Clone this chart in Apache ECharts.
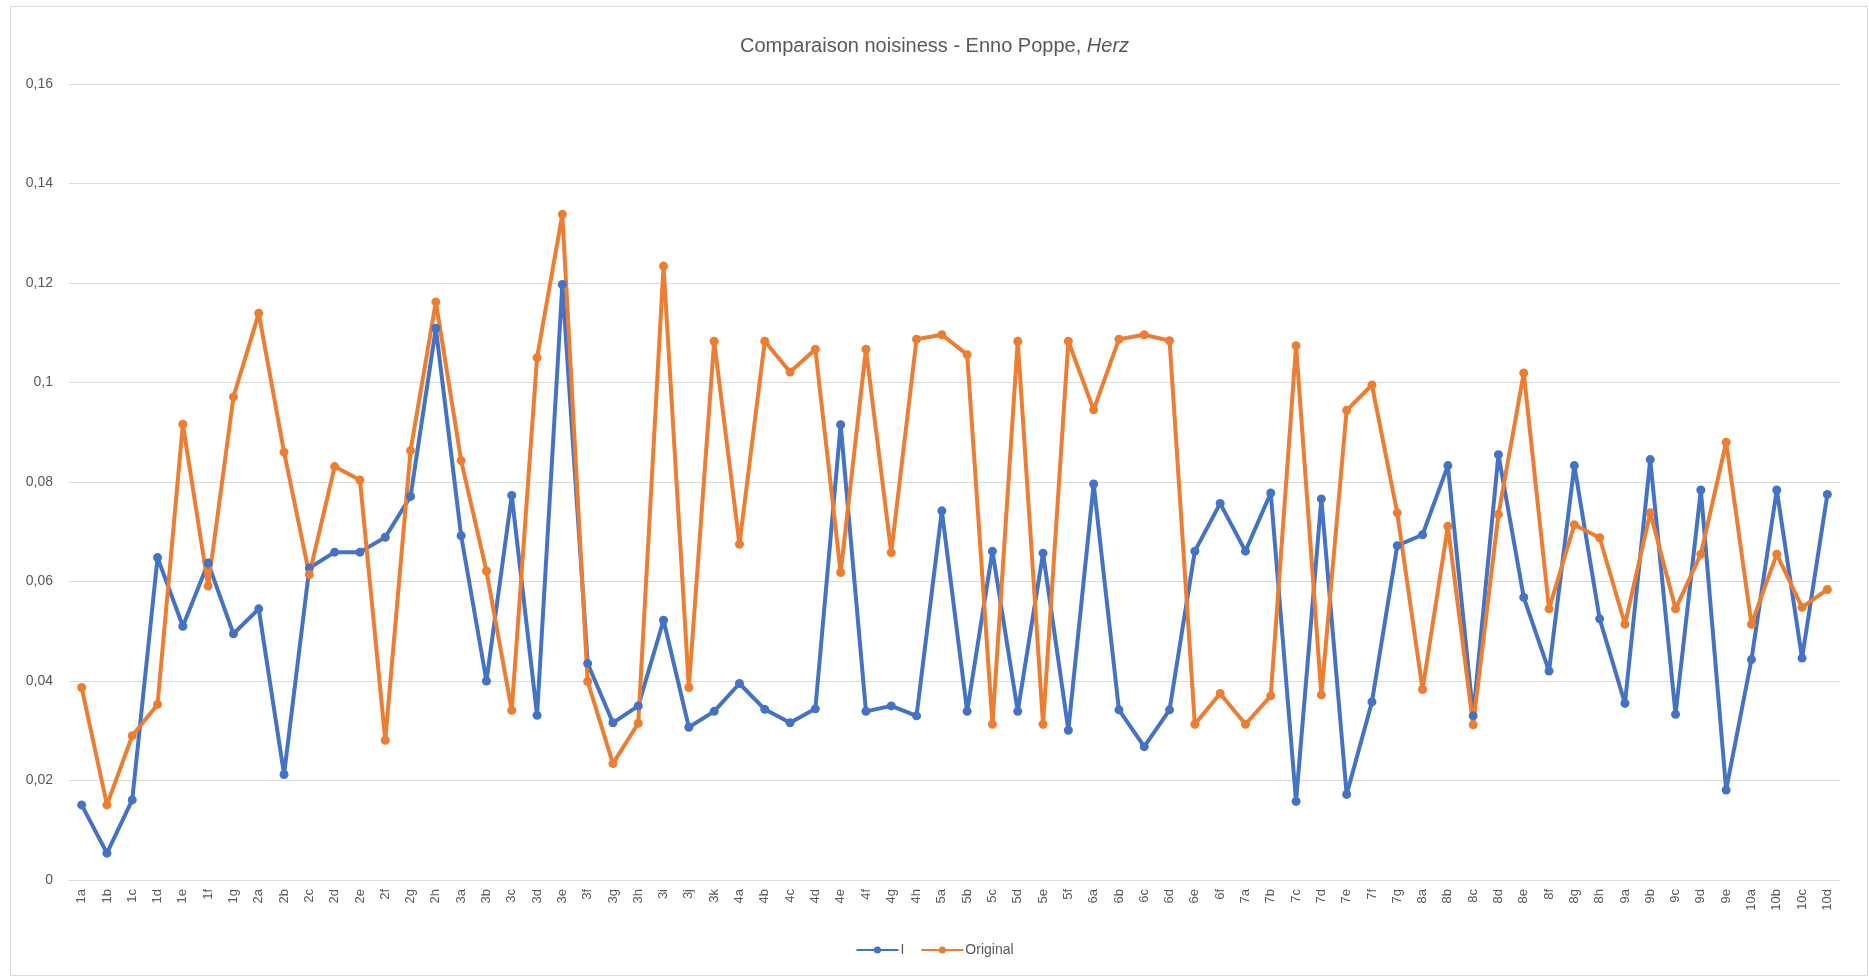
<!DOCTYPE html>
<html><head><meta charset="utf-8">
<script src="https://cdn.jsdelivr.net/npm/echarts@6/dist/echarts.min.js"></script>
<style>html,body{margin:0;padding:0;background:#fff}#c{width:1869px;height:977px}</style>
</head><body><div id="c"></div>
<script>
const categories = ['1a','1b','1c','1d','1e','1f','1g','2a','2b','2c','2d','2e','2f','2g','2h','3a','3b','3c','3d','3e','3f','3g','3h','3i','3j','3k','4a','4b','4c','4d','4e','4f','4g','4h','5a','5b','5c','5d','5e','5f','6a','6b','6c','6d','6e','6f','7a','7b','7c','7d','7e','7f','7g','8a','8b','8c','8d','8e','8f','8g','8h','9a','9b','9c','9d','9e','10a','10b','10c','10d'];
const seriesI = [0.0151,0.0054,0.0161,0.0648,0.0510,0.0637,0.0495,0.0545,0.0212,0.0627,0.0659,0.0659,0.0689,0.0771,0.1109,0.0692,0.0400,0.0773,0.0331,0.1197,0.0435,0.0316,0.0350,0.0522,0.0307,0.0339,0.0395,0.0343,0.0316,0.0344,0.0915,0.0339,0.0350,0.0330,0.0742,0.0339,0.0661,0.0339,0.0657,0.0301,0.0796,0.0342,0.0268,0.0342,0.0661,0.0757,0.0661,0.0778,0.0158,0.0766,0.0172,0.0358,0.0672,0.0694,0.0833,0.0330,0.0855,0.0568,0.0420,0.0833,0.0525,0.0355,0.0845,0.0333,0.0784,0.0181,0.0443,0.0784,0.0446,0.0775];
const seriesOriginal = [0.0387,0.0151,0.0290,0.0353,0.0916,0.0591,0.0971,0.1139,0.0860,0.0614,0.0831,0.0804,0.0281,0.0863,0.1162,0.0843,0.0621,0.0341,0.1050,0.1338,0.0399,0.0234,0.0315,0.1234,0.0387,0.1083,0.0675,0.1083,0.1021,0.1067,0.0618,0.1067,0.0658,0.1087,0.1096,0.1056,0.0313,0.1083,0.0313,0.1083,0.0945,0.1087,0.1096,0.1084,0.0313,0.0375,0.0313,0.0370,0.1074,0.0372,0.0944,0.0995,0.0738,0.0383,0.0711,0.0312,0.0735,0.1019,0.0545,0.0714,0.0688,0.0514,0.0738,0.0545,0.0655,0.0880,0.0514,0.0655,0.0548,0.0584];
const seriesNames = ['I','Original'];
const titleMain = 'Comparaison noisiness - Enno Poppe, ';
const titleItalic = 'Herz';

const FONT = '"Liberation Sans", "DejaVu Sans", sans-serif';
const chart = echarts.init(document.getElementById('c'), null, {renderer:'canvas'});
function mkSeries(name, data, color){
  return {
    name, type:'line', data,
    symbol:'circle', symbolSize:9,
    lineStyle:{color, width:4},
    itemStyle:{color},
    emphasis:{disabled:true},
    animation:false
  };
}
chart.setOption({
  animation:false,
  backgroundColor:'#fff',
  graphic:[{type:'rect', shape:{x:10.5,y:6.5,width:1857,height:969}, style:{fill:'none', stroke:'#d9d9d9', lineWidth:1}, silent:true}],
  title:{
    text:'{n|' + titleMain + '}{i|' + titleItalic + '}',
    left:'center', top:31,
    textStyle:{fontWeight:'normal', rich:{
      n:{fontFamily:FONT, fontSize:20, color:'#595959', fontWeight:'normal'},
      i:{fontFamily:FONT, fontSize:20, color:'#595959', fontStyle:'italic', fontWeight:'normal'}
    }}
  },
  legend:{
    data:seriesNames, bottom:15, left:'center',
    itemWidth:42, itemHeight:9, itemGap:16,
    textStyle:{fontFamily:FONT, fontSize:14, color:'#595959', padding:[0,0,0,-3]}
  },
  grid:{left:69, right:29, top:84, bottom:97, containLabel:false},
  xAxis:{
    type:'category', data:categories, boundaryGap:true,
    axisLine:{lineStyle:{color:'#d9d9d9', width:1}},
    axisTick:{show:false},
    axisLabel:{interval:0, rotate:90, fontFamily:FONT, fontSize:13, color:'#595959', margin:9}
  },
  yAxis:{
    type:'value', min:0, max:0.16, interval:0.02,
    axisLine:{show:false}, axisTick:{show:false},
    splitLine:{lineStyle:{color:'#d9d9d9', width:1}},
    axisLabel:{fontFamily:FONT, fontSize:14, color:'#595959', margin:16,
      formatter:v => (Math.round(v*100)/100).toString().replace('.', ',')}
  },
  series:[mkSeries(seriesNames[0], seriesI, '#4472C4'), mkSeries(seriesNames[1], seriesOriginal, '#ED7D31')]
});
</script></body></html>
